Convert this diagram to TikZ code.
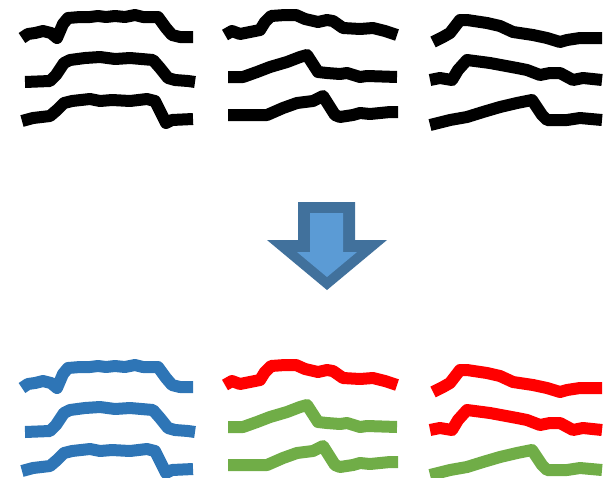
\documentclass[tikz,border=0pt]{standalone}
\usetikzlibrary{calc}

\definecolor{inkblack}{HTML}{000000}
\definecolor{traceblue}{HTML}{2E75B6}
\definecolor{tracered}{HTML}{FF0000}
\definecolor{tracegreen}{HTML}{70AD47}
\definecolor{arrowrim}{HTML}{41719C}
\definecolor{arrowfill}{HTML}{5B9BD5}

\tikzset{
  trace/.style={line width=12pt, line join=round, line cap=butt},
  rawtrace/.style={trace, draw=inkblack},
  bluetrace/.style={trace, draw=traceblue},
  redtrace/.style={trace, draw=tracered},
  greentrace/.style={trace, draw=tracegreen},
}

% the nine traces, each drawn with a given style
\newcommand\traceAa[1]{\draw[#1] (22,38) -- (28,34) -- (35,33) -- (43,31) -- (51,33) -- (57,38) -- (63,24) -- (68,18) -- (80,17) -- (90,17) -- (98,16) -- (106,17) -- (115,16) -- (125,17) -- (135,15) -- (143,17) -- (158,17) -- (166,28) -- (172,35) -- (180,37) -- (193,37);}
\newcommand\traceAb[1]{\draw[#1] (25,82) -- (50,81) -- (56,75) -- (64,63) -- (70,60) -- (85,58) -- (100,57) -- (115,59) -- (130,58) -- (153,60) -- (160,68) -- (168,78) -- (175,80) -- (188,81) -- (195,82);}
\newcommand\traceAc[1]{\draw[#1] (22,121) -- (33,118) -- (50,116) -- (57,110) -- (64,103) -- (72,101) -- (90,99) -- (100,101) -- (112,100) -- (130,101) -- (147,99) -- (155,101) -- (160,111) -- (166,123) -- (172,120) -- (193,119);}
\newcommand\traceBa[1]{\draw[#1] (225,35) -- (232,31) -- (240,34) -- (250,32) -- (260,30) -- (265,22) -- (271,16) -- (285,15) -- (296,15) -- (305,19) -- (318,22) -- (327,20) -- (333,21) -- (343,28) -- (360,29) -- (373,28) -- (385,31) -- (397,35);}
\newcommand\traceBb[1]{\draw[#1] (228,77) -- (243,77) -- (257,72) -- (270,67) -- (287,62) -- (300,57) -- (307,55) -- (318,72) -- (327,73) -- (340,74) -- (347,73) -- (360,77) -- (367,76) -- (397,77);}
\newcommand\traceBc[1]{\draw[#1] (228,115) -- (267,115) -- (283,108) -- (297,103) -- (313,101) -- (323,96) -- (335,115) -- (340,117) -- (353,115) -- (360,113) -- (370,114) -- (390,112) -- (398,112);}
\newcommand\traceCa[1]{\draw[#1] (433,42) -- (443,37) -- (450,33) -- (460,20) -- (467,20) -- (487,23) -- (500,26) -- (513,32) -- (533,35) -- (547,38) -- (560,42) -- (567,40) -- (580,38) -- (602,38);}
\newcommand\traceCb[1]{\draw[#1] (430,80) -- (440,78) -- (452,80) -- (458,70) -- (467,60) -- (490,63) -- (517,68) -- (527,70) -- (540,75) -- (550,73) -- (560,73) -- (573,80) -- (583,78) -- (602,80);}
\newcommand\traceCc[1]{\draw[#1] (430,125) -- (450,120) -- (467,117) -- (483,112) -- (500,107) -- (517,103) -- (532,100) -- (542,115) -- (547,120) -- (567,120) -- (580,118) -- (602,120);}

\begin{document}
\begin{tikzpicture}[x=1pt, y=-1pt]
  \useasboundingbox (0,0) rectangle (609,477);

  % raw traces
  \traceAa{rawtrace}
  \traceAb{rawtrace}
  \traceAc{rawtrace}
  \traceBa{rawtrace}
  \traceBb{rawtrace}
  \traceBc{rawtrace}
  \traceCa{rawtrace}
  \traceCb{rawtrace}
  \traceCc{rawtrace}

  % block arrow pointing down
  \fill[arrowrim] (298,202) -- (355,202) -- (355,240) -- (387,240) -- (327,290) -- (267,240) -- (298,240) -- cycle;
  \fill[arrowfill] (310,213) -- (343,213) -- (343,252) -- (357,252) -- (327,277) -- (297,252) -- (310,252) -- cycle;

  % classified traces
  \begin{scope}[yshift=-350pt]
    \traceAa{bluetrace}
    \traceAb{bluetrace}
    \traceAc{bluetrace}
    \traceBa{redtrace}
    \traceBb{greentrace}
    \traceBc{greentrace}
    \traceCa{redtrace}
    \traceCb{redtrace}
    \traceCc{greentrace}
  \end{scope}
\end{tikzpicture}
\end{document}
